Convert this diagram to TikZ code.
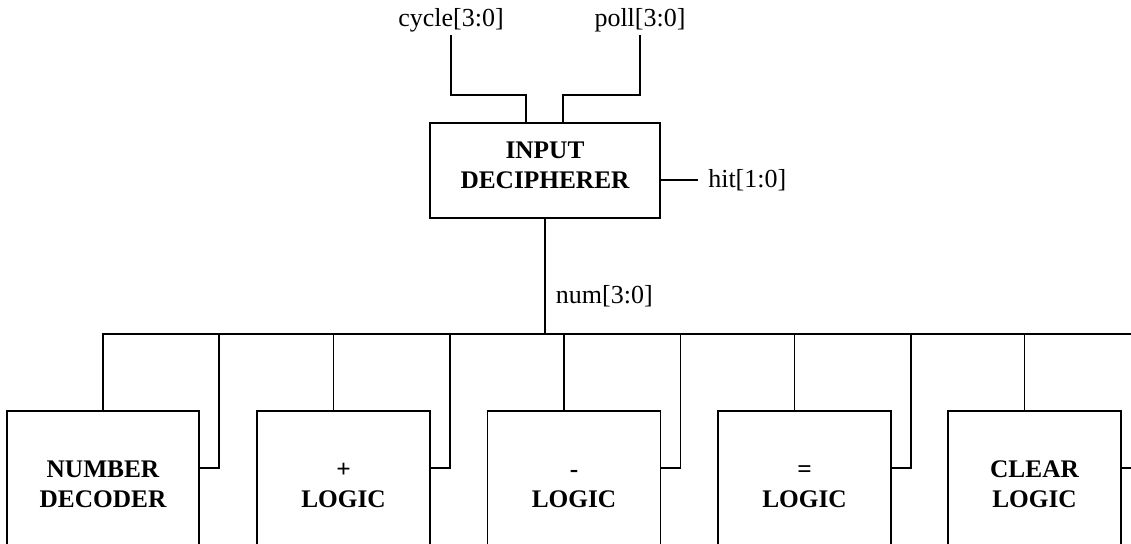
\documentclass[tikz,border=0pt]{standalone}
\usepackage{fontspec}
\setmainfont{Liberation Serif}
\usetikzlibrary{calc}
\tikzset{blk/.style={draw,line width=1.4pt,align=center,font=\fontsize{19}{22.5}\selectfont\bfseries,inner sep=0pt},
 unit/.style={blk,minimum width=129.75pt,minimum height=110.25pt},
 sig/.style={font=\fontsize{19.5}{22.5}\selectfont,inner sep=2pt},
 wire/.style={line width=1.4pt}}

\begin{document}
\begin{tikzpicture}[x=0.75pt,y=-0.75pt]
\useasboundingbox (0,0) rectangle (1131,543);
\clip (0,0) rectangle (1131,543);
% input stage
\node[blk,minimum width=172.5pt,minimum height=71.25pt,text depth=7.5pt] (decipherer) at (545,170.5) {INPUT\\DECIPHERER};
\node[sig] (cycle) at (451,20) {cycle[3:0]};
\node[sig] (poll) at (640,20) {poll[3:0]};
\node[sig,anchor=west,inner xsep=7.5pt] (hit) at (698,180) {hit[1:0]};
\node[sig,anchor=west] (num) at (553,296) {num[3:0]};
% logic units
\node[blk,minimum width=144pt,minimum height=110.25pt] (numdec) at (103,484.5) {NUMBER\\DECODER};
\node[unit] (pluslogic) at (343.5,484.5) {+\vphantom{L}\\LOGIC};
\node[unit] (minuslogic) at (574,484.5) {-\vphantom{L}\\LOGIC};
\node[unit] (eqlogic) at (804.5,484.5) {=\vphantom{L}\\LOGIC};
\node[unit] (clearlogic) at (1034.5,484.5) {CLEAR\\LOGIC};
\coordinate (busend) at (1140,334);

\draw[wire] (cycle.south) |- ($(decipherer.north)+(-19,-27)$) -- ($(decipherer.north)+(-19,0)$);
\draw[wire] (poll.south) |- ($(decipherer.north)+(18,-27)$) -- ($(decipherer.north)+(18,0)$);
\draw[wire] (hit.west -| decipherer.east) -- (hit.west);
\draw[wire] (decipherer.south) -- (decipherer.south |- busend);
% num bus
\draw[wire] (numdec.north) |- (busend);
\foreach \u in {pluslogic,minuslogic,eqlogic,clearlogic}
  \draw[wire] ([xshift=-7.5pt]\u.north) -- ++(0,-77);
\foreach \u in {numdec,pluslogic,minuslogic,eqlogic,clearlogic}
  \draw[wire] ([yshift=12.375pt]\u.east) -- ++(19,0) -- ++(0,-134);
\end{tikzpicture}
\end{document}
